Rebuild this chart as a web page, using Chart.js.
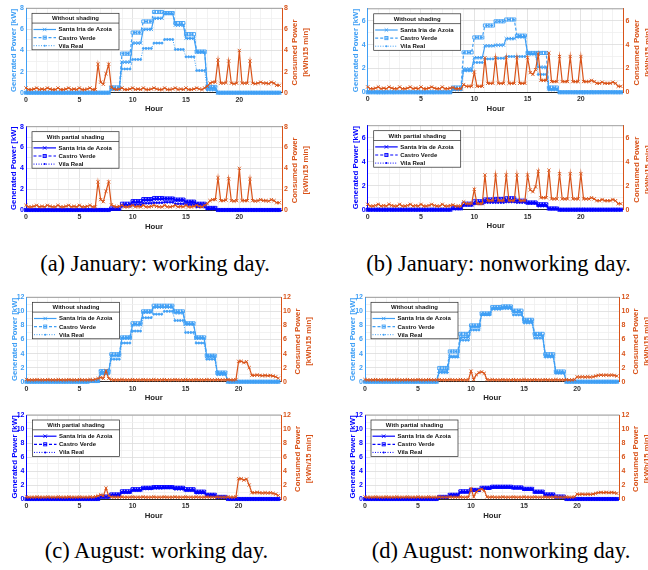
<!DOCTYPE html>
<html>
<head>
<meta charset="utf-8">
<script src="https://cdn.jsdelivr.net/npm/chart.js@4.4.1/dist/chart.umd.min.js"></script>
<style>
  html, body { margin: 0; padding: 0; background: #fff; }
  #fig { position: relative; width: 648px; height: 570px; overflow: hidden; background: #fff; }
  #fig canvas { position: absolute; }
  .cap { position: absolute; font-family: "Liberation Serif", "Times New Roman", serif; font-size: 22.5px;
         line-height: 1; color: #000; white-space: nowrap; transform: translate(-50%, -50%); }
</style>
</head>
<body>
<div id="fig">
  <div class="cap" style="left:155px;top:264px">(a) January: working day.</div>
  <div class="cap" style="left:498.5px;top:264px">(b) January: nonworking day.</div>
  <div class="cap" style="left:156.5px;top:551px">(c) August: working day.</div>
  <div class="cap" style="left:501px;top:551px">(d) August: nonworking day.</div>
</div>
<script>
// ---- time base: one sample every 15 minutes ----
const quarterHours = [
  0,0.25,0.5,0.75, 1,1.25,1.5,1.75, 2,2.25,2.5,2.75, 3,3.25,3.5,3.75, 4,4.25,4.5,4.75, 5,5.25,5.5,5.75,
  6,6.25,6.5,6.75, 7,7.25,7.5,7.75, 8,8.25,8.5,8.75, 9,9.25,9.5,9.75, 10,10.25,10.5,10.75, 11,11.25,11.5,11.75,
  12,12.25,12.5,12.75, 13,13.25,13.5,13.75, 14,14.25,14.5,14.75, 15,15.25,15.5,15.75, 16,16.25,16.5,16.75, 17,17.25,17.5,17.75,
  18,18.25,18.5,18.75, 19,19.25,19.5,19.75, 20,20.25,20.5,20.75, 21,21.25,21.5,21.75, 22,22.25,22.5,22.75, 23,23.25,23.5,23.75
];

const siteNames = ['Santa Iria de Azoia', 'Castro Verde', 'Vila Real'];
const hourGrid = [0,1,2,3,4,5,6,7,8,9,10,11,12,13,14,15,16,17,18,19,20,21,22,23,24];
const hourTickLabels = [0,5,10,15,20];
const yGrid8 = [0,1,2,3,4,5,6,7,8];
const yLabels8 = [0,2,4,6,8];
const yGrid7 = [0,1,2,3,4,5,6,7];
const yLabels7 = [0,2,4,6];
const yGrid12 = [0,1,2,3,4,5,6,7,8,9,10,11,12];
const yLabels12 = [0,2,4,6,8,10,12];

// ---- consumed power [kWh/15 min] ----
const loadJanWork = [
  0.45,0.3,0.3,0.35, 0.45,0.3,0.35,0.3, 0.45,0.35,0.3,0.3, 0.45,0.3,0.3,0.35, 0.45,0.3,0.35,0.3, 0.45,0.3,0.3,0.35,
  0.45,0.3,0.3,2.7, 1.0,0.8,1.8,2.7, 0.5,0.35,0.3,0.35, 0.45,0.3,0.3,0.35, 0.45,0.3,0.35,0.3, 0.45,0.3,0.3,0.35,
  0.45,0.35,0.3,0.3, 0.45,0.3,0.3,0.35, 0.45,0.3,0.35,0.3, 0.45,0.3,0.3,0.35, 0.45,0.35,0.3,0.45, 0.6,0.9,1.0,1.0,
  3.1,0.9,0.9,0.95, 3.0,0.9,0.85,0.9, 4.0,0.9,0.9,0.9, 3.0,0.9,0.85,0.9, 1.0,0.9,0.9,0.85, 1.0,0.9,0.7,0.7
];
const loadJanOff = [
  0.45,0.3,0.3,0.35, 0.45,0.3,0.35,0.3, 0.45,0.35,0.3,0.3, 0.45,0.3,0.3,0.35, 0.45,0.3,0.35,0.3, 0.45,0.3,0.3,0.35,
  0.45,0.35,0.3,0.3, 0.45,0.3,0.3,0.35, 0.4,0.3,0.3,0.3, 0.65,0.5,0.5,0.5, 1.7,0.5,0.5,0.5, 2.9,0.75,0.75,0.75,
  2.9,0.75,0.75,0.75, 2.9,0.75,0.75,0.75, 2.9,0.75,0.75,0.75, 2.9,1.65,1.5,1.9, 3.2,1.0,1.0,1.0, 3.3,0.9,0.9,0.9,
  3.0,0.9,0.9,0.9, 3.0,0.9,0.9,0.9, 3.0,0.9,0.9,0.9, 1.0,0.9,0.75,0.75, 0.85,0.75,0.75,0.75, 0.85,0.75,0.5,0.5
];
const loadAugWork = [
  0.3,0.25,0.25,0.25, 0.3,0.25,0.25,0.25, 0.3,0.25,0.25,0.25, 0.3,0.25,0.25,0.25, 0.3,0.25,0.25,0.25, 0.3,0.25,0.25,0.25,
  0.3,0.25,0.35,0.45, 0.6,0.45,1.55,0.45, 0.3,0.25,0.25,0.25, 0.3,0.25,0.25,0.25, 0.3,0.25,0.25,0.25, 0.3,0.25,0.25,0.25,
  0.3,0.25,0.25,0.25, 0.3,0.25,0.25,0.25, 0.3,0.25,0.25,0.25, 0.3,0.25,0.25,0.25, 0.3,0.25,0.25,0.25, 0.3,0.25,0.25,0.25,
  0.3,0.25,0.25,0.25, 0.3,0.25,0.25,0.3, 2.9,2.9,2.7,2.85, 2.0,0.9,0.9,0.95, 0.9,0.85,0.9,0.85, 0.9,0.8,0.7,0.5
];
const loadAugOff = [
  0.3,0.25,0.25,0.25, 0.3,0.25,0.25,0.25, 0.3,0.25,0.25,0.25, 0.3,0.25,0.25,0.25, 0.3,0.25,0.25,0.25, 0.3,0.25,0.25,0.25,
  0.3,0.25,0.25,0.25, 0.3,0.25,0.25,0.25, 0.3,0.25,0.25,0.25, 0.3,0.25,0.25,0.25, 1.5,0.3,1.0,1.3, 1.4,1.2,0.3,0.25,
  0.3,0.25,0.25,0.25, 0.3,0.25,0.25,0.25, 0.3,0.25,0.25,0.25, 0.3,0.25,0.25,0.25, 0.3,0.25,0.25,0.25, 0.3,0.25,0.25,0.25,
  0.3,0.25,0.25,0.25, 0.3,0.25,0.25,0.3, 0.7,0.65,0.7,0.65, 0.7,0.65,0.7,0.8, 0.9,0.95,0.9,0.95, 0.9,0.95,0.9,0.8
];

// ---- generated power [kW], January working day ----
const genJanWorkSantaIria = [
  0,0,0,0, 0,0,0,0, 0,0,0,0, 0,0,0,0, 0,0,0,0, 0,0,0,0,
  0,0,0,0, 0,0,0,0, 0.4,0.4,0.4,0.4, 2.9,2.9,2.9,2.9, 4.7,4.7,4.7,4.7, 6,6,6,6,
  7.05,7.05,7.05,7.05, 7.5,7.5,7.5,7.5, 6.4,6.4,6.4,6.4, 5.15,5.15,5.15,5.15, 3.85,3.85,3.85,3.85, 0.45,0.45,0.45,0.45,
  0,0,0,0, 0,0,0,0, 0,0,0,0, 0,0,0,0, 0,0,0,0, 0,0,0,0
];
const genJanWorkCastroVerde = [
  0,0,0,0, 0,0,0,0, 0,0,0,0, 0,0,0,0, 0,0,0,0, 0,0,0,0,
  0,0,0,0, 0,0,0,0, 0.5,0.5,0.5,0.5, 3.7,3.7,3.7,3.7, 5.7,5.7,5.7,5.7, 6.75,6.75,6.75,6.75,
  7.65,7.65,7.65,7.65, 7.55,7.55,7.55,7.55, 6.6,6.6,6.6,6.6, 5.55,5.55,5.55,5.55, 3.9,3.9,3.9,3.9, 0.55,0.55,0.55,0.55,
  0,0,0,0, 0,0,0,0, 0,0,0,0, 0,0,0,0, 0,0,0,0, 0,0,0,0
];
const genJanWorkVilaReal = [
  0,0,0,0, 0,0,0,0, 0,0,0,0, 0,0,0,0, 0,0,0,0, 0,0,0,0,
  0,0,0,0, 0,0,0,0, 0.3,0.3,0.3,0.3, 2.25,2.25,2.25,2.25, 3.15,3.15,3.15,3.15, 4.2,4.2,4.2,4.2,
  4.7,4.7,4.7,4.7, 5.05,5.05,5.05,5.05, 4.1,4.1,4.1,4.1, 3.4,3.4,3.4,3.4, 2.1,2.1,2.1,2.1, 0.25,0.25,0.25,0.25,
  0,0,0,0, 0,0,0,0, 0,0,0,0, 0,0,0,0, 0,0,0,0, 0,0,0,0
];
const genJanWorkShadedSantaIria = [
  0,0,0,0, 0,0,0,0, 0,0,0,0, 0,0,0,0, 0,0,0,0, 0,0,0,0,
  0,0,0,0, 0,0,0,0, 0.1,0.1,0.1,0.1, 0.5,0.5,0.5,0.5, 0.75,0.75,0.75,0.75, 0.95,0.95,0.95,0.95,
  1.05,1.05,1.05,1.05, 1.1,1.1,1.1,1.1, 0.95,0.95,0.95,0.95, 0.75,0.75,0.75,0.75, 0.55,0.55,0.55,0.55, 0.15,0.15,0.15,0.15,
  0,0,0,0, 0,0,0,0, 0,0,0,0, 0,0,0,0, 0,0,0,0, 0,0,0,0
];
const genJanWorkShadedCastroVerde = [
  0,0,0,0, 0,0,0,0, 0,0,0,0, 0,0,0,0, 0,0,0,0, 0,0,0,0,
  0,0,0,0, 0,0,0,0, 0.15,0.15,0.15,0.15, 0.6,0.6,0.6,0.6, 0.85,0.85,0.85,0.85, 1.05,1.05,1.05,1.05,
  1.15,1.15,1.15,1.15, 1.1,1.1,1.1,1.1, 1.0,1.0,1.0,1.0, 0.8,0.8,0.8,0.8, 0.6,0.6,0.6,0.6, 0.2,0.2,0.2,0.2,
  0,0,0,0, 0,0,0,0, 0,0,0,0, 0,0,0,0, 0,0,0,0, 0,0,0,0
];
const genJanWorkShadedVilaReal = [
  0,0,0,0, 0,0,0,0, 0,0,0,0, 0,0,0,0, 0,0,0,0, 0,0,0,0,
  0,0,0,0, 0,0,0,0, 0.05,0.05,0.05,0.05, 0.35,0.35,0.35,0.35, 0.5,0.5,0.5,0.5, 0.65,0.65,0.65,0.65,
  0.7,0.7,0.7,0.7, 0.75,0.75,0.75,0.75, 0.6,0.6,0.6,0.6, 0.5,0.5,0.5,0.5, 0.3,0.3,0.3,0.3, 0.1,0.1,0.1,0.1,
  0,0,0,0, 0,0,0,0, 0,0,0,0, 0,0,0,0, 0,0,0,0, 0,0,0,0
];

// ---- generated power [kW], January nonworking day ----
const genJanOffSantaIria = [
  0,0,0,0, 0,0,0,0, 0,0,0,0, 0,0,0,0, 0,0,0,0, 0,0,0,0,
  0,0,0,0, 0,0,0,0, 0.3,0.3,0.3,0.3, 1.95,1.95,1.95,1.95, 2.9,2.9,2.9,2.9, 3.9,3.9,3.9,3.9,
  3.95,3.95,3.95,3.95, 4.5,4.5,4.5,4.5, 4.65,4.65,4.65,4.65, 3.25,3.25,3.25,3.25, 2.1,2.1,2.1,2.1, 0.3,0.3,0.3,0.3,
  0,0,0,0, 0,0,0,0, 0,0,0,0, 0,0,0,0, 0,0,0,0, 0,0,0,0
];
const genJanOffCastroVerde = [
  0,0,0,0, 0,0,0,0, 0,0,0,0, 0,0,0,0, 0,0,0,0, 0,0,0,0,
  0,0,0,0, 0,0,0,0, 0.4,0.4,0.4,0.4, 3.35,3.35,3.35,3.35, 4.6,4.6,4.6,4.6, 5.6,5.6,5.6,5.6,
  5.95,5.95,5.95,5.95, 6.1,6.1,6.1,6.1, 4.75,4.75,4.75,4.75, 3.3,3.3,3.3,3.3, 3.3,3.3,3.3,3.3, 0.4,0.4,0.4,0.4,
  0,0,0,0, 0,0,0,0, 0,0,0,0, 0,0,0,0, 0,0,0,0, 0,0,0,0
];
const genJanOffVilaReal = [
  0,0,0,0, 0,0,0,0, 0,0,0,0, 0,0,0,0, 0,0,0,0, 0,0,0,0,
  0,0,0,0, 0,0,0,0, 0.2,0.2,0.2,0.2, 1.8,1.8,1.8,1.8, 2.5,2.5,2.5,2.5, 2.8,2.8,2.8,2.8,
  2.85,2.85,2.85,2.85, 3.0,3.0,3.0,3.0, 3.0,3.0,3.0,3.0, 3.2,3.2,3.2,3.2, 1.5,1.5,1.5,1.5, 0.2,0.2,0.2,0.2,
  0,0,0,0, 0,0,0,0, 0,0,0,0, 0,0,0,0, 0,0,0,0, 0,0,0,0
];
const genJanOffShadedSantaIria = [
  0,0,0,0, 0,0,0,0, 0,0,0,0, 0,0,0,0, 0,0,0,0, 0,0,0,0,
  0,0,0,0, 0,0,0,0, 0.1,0.1,0.1,0.1, 0.4,0.4,0.4,0.4, 0.55,0.55,0.55,0.55, 0.7,0.7,0.7,0.7,
  0.75,0.75,0.75,0.75, 0.8,0.8,0.8,0.8, 0.75,0.75,0.75,0.75, 0.55,0.55,0.55,0.55, 0.4,0.4,0.4,0.4, 0.1,0.1,0.1,0.1,
  0,0,0,0, 0,0,0,0, 0,0,0,0, 0,0,0,0, 0,0,0,0, 0,0,0,0
];
const genJanOffShadedCastroVerde = [
  0,0,0,0, 0,0,0,0, 0,0,0,0, 0,0,0,0, 0,0,0,0, 0,0,0,0,
  0,0,0,0, 0,0,0,0, 0.15,0.15,0.15,0.15, 0.5,0.5,0.5,0.5, 0.7,0.7,0.7,0.7, 0.85,0.85,0.85,0.85,
  0.9,0.9,0.9,0.9, 0.95,0.95,0.95,0.95, 0.75,0.75,0.75,0.75, 0.6,0.6,0.6,0.6, 0.45,0.45,0.45,0.45, 0.1,0.1,0.1,0.1,
  0,0,0,0, 0,0,0,0, 0,0,0,0, 0,0,0,0, 0,0,0,0, 0,0,0,0
];
const genJanOffShadedVilaReal = [
  0,0,0,0, 0,0,0,0, 0,0,0,0, 0,0,0,0, 0,0,0,0, 0,0,0,0,
  0,0,0,0, 0,0,0,0, 0.05,0.05,0.05,0.05, 0.35,0.35,0.35,0.35, 0.5,0.5,0.5,0.5, 0.6,0.6,0.6,0.6,
  0.6,0.6,0.6,0.6, 0.65,0.65,0.65,0.65, 0.6,0.6,0.6,0.6, 0.55,0.55,0.55,0.55, 0.3,0.3,0.3,0.3, 0.05,0.05,0.05,0.05,
  0,0,0,0, 0,0,0,0, 0,0,0,0, 0,0,0,0, 0,0,0,0, 0,0,0,0
];

// ---- generated power [kW], August working day ----
const genAugWorkSantaIria = [
  0,0,0,0, 0,0,0,0, 0,0,0,0, 0,0,0,0, 0,0,0,0, 0,0,0,0,
  0.05,0.05,0.05,0.05, 1.4,1.4,1.4,1.4, 3.7,3.7,3.7,3.7, 6.2,6.2,6.2,6.2, 8.1,8.1,8.1,8.1, 9.9,9.9,9.9,9.9,
  10.6,10.6,10.6,10.6, 10.6,10.6,10.6,10.6, 9.8,9.8,9.8,9.8, 8.2,8.2,8.2,8.2, 6.2,6.2,6.2,6.2, 3.6,3.6,3.6,3.6,
  1.2,1.2,1.2,1.2, 0,0,0,0, 0,0,0,0, 0,0,0,0, 0,0,0,0, 0,0,0,0
];
const genAugWorkCastroVerde = [
  0,0,0,0, 0,0,0,0, 0,0,0,0, 0,0,0,0, 0,0,0,0, 0,0,0,0,
  0.1,0.1,0.1,0.1, 1.5,1.5,1.5,1.5, 3.9,3.9,3.9,3.9, 6.3,6.3,6.3,6.3, 8.3,8.3,8.3,8.3, 10,10,10,10,
  10.8,10.8,10.8,10.8, 10.8,10.8,10.8,10.8, 10,10,10,10, 8.3,8.3,8.3,8.3, 6.3,6.3,6.3,6.3, 3.7,3.7,3.7,3.7,
  1.3,1.3,1.3,1.3, 0,0,0,0, 0,0,0,0, 0,0,0,0, 0,0,0,0, 0,0,0,0
];
const genAugWorkVilaReal = [
  0,0,0,0, 0,0,0,0, 0,0,0,0, 0,0,0,0, 0,0,0,0, 0,0,0,0,
  0.05,0.05,0.05,0.05, 1.1,1.1,1.1,1.1, 3.2,3.2,3.2,3.2, 5.5,5.5,5.5,5.5, 7.2,7.2,7.2,7.2, 9.1,9.1,9.1,9.1,
  9.6,9.6,9.6,9.6, 10,10,10,10, 8.7,8.7,8.7,8.7, 7.0,7.0,7.0,7.0, 5.5,5.5,5.5,5.5, 3.2,3.2,3.2,3.2,
  1.0,1.0,1.0,1.0, 0,0,0,0, 0,0,0,0, 0,0,0,0, 0,0,0,0, 0,0,0,0
];
const genAugWorkShadedSantaIria = [
  0,0,0,0, 0,0,0,0, 0,0,0,0, 0,0,0,0, 0,0,0,0, 0,0,0,0,
  0,0,0,0, 0.3,0.3,0.3,0.3, 0.6,0.6,0.6,0.6, 1.0,1.0,1.0,1.0, 1.3,1.3,1.3,1.3, 1.55,1.55,1.55,1.55,
  1.65,1.65,1.65,1.65, 1.65,1.65,1.65,1.65, 1.55,1.55,1.55,1.55, 1.3,1.3,1.3,1.3, 1.0,1.0,1.0,1.0, 0.55,0.55,0.55,0.55,
  0.25,0.25,0.25,0.25, 0,0,0,0, 0,0,0,0, 0,0,0,0, 0,0,0,0, 0,0,0,0
];
const genAugWorkShadedCastroVerde = [
  0,0,0,0, 0,0,0,0, 0,0,0,0, 0,0,0,0, 0,0,0,0, 0,0,0,0,
  0,0,0,0, 0.35,0.35,0.35,0.35, 0.65,0.65,0.65,0.65, 1.1,1.1,1.1,1.1, 1.4,1.4,1.4,1.4, 1.6,1.6,1.6,1.6,
  1.7,1.7,1.7,1.7, 1.7,1.7,1.7,1.7, 1.6,1.6,1.6,1.6, 1.4,1.4,1.4,1.4, 1.05,1.05,1.05,1.05, 0.6,0.6,0.6,0.6,
  0.3,0.3,0.3,0.3, 0,0,0,0, 0,0,0,0, 0,0,0,0, 0,0,0,0, 0,0,0,0
];
const genAugWorkShadedVilaReal = [
  0,0,0,0, 0,0,0,0, 0,0,0,0, 0,0,0,0, 0,0,0,0, 0,0,0,0,
  0,0,0,0, 0.25,0.25,0.25,0.25, 0.5,0.5,0.5,0.5, 0.9,0.9,0.9,0.9, 1.2,1.2,1.2,1.2, 1.45,1.45,1.45,1.45,
  1.55,1.55,1.55,1.55, 1.6,1.6,1.6,1.6, 1.4,1.4,1.4,1.4, 1.2,1.2,1.2,1.2, 0.85,0.85,0.85,0.85, 0.5,0.5,0.5,0.5,
  0.2,0.2,0.2,0.2, 0,0,0,0, 0,0,0,0, 0,0,0,0, 0,0,0,0, 0,0,0,0
];

// ---- generated power [kW], August nonworking day ----
const genAugOffSantaIria = [
  0,0,0,0, 0,0,0,0, 0,0,0,0, 0,0,0,0, 0,0,0,0, 0,0,0,0,
  0,0,0,0, 1.5,1.5,1.5,1.5, 3.6,3.6,3.6,3.6, 6.3,6.3,6.3,6.3, 7.8,7.8,7.8,7.8, 9.6,9.6,9.6,9.6,
  10.5,10.5,10.5,10.5, 10.6,10.6,10.6,10.6, 9.9,9.9,9.9,9.9, 8.6,8.6,8.6,8.6, 6.6,6.6,6.6,6.6, 3.7,3.7,3.7,3.7,
  1.3,1.3,1.3,1.3, 0,0,0,0, 0,0,0,0, 0,0,0,0, 0,0,0,0, 0,0,0,0
];
const genAugOffCastroVerde = [
  0,0,0,0, 0,0,0,0, 0,0,0,0, 0,0,0,0, 0,0,0,0, 0,0,0,0,
  0,0,0,0, 1.95,1.95,1.95,1.95, 4.3,4.3,4.3,4.3, 6.8,6.8,6.8,6.8, 8.0,8.0,8.0,8.0, 9.7,9.7,9.7,9.7,
  10.6,10.6,10.6,10.6, 10.7,10.7,10.7,10.7, 10.1,10.1,10.1,10.1, 8.8,8.8,8.8,8.8, 6.8,6.8,6.8,6.8, 3.9,3.9,3.9,3.9,
  1.45,1.45,1.45,1.45, 0,0,0,0, 0,0,0,0, 0,0,0,0, 0,0,0,0, 0,0,0,0
];
const genAugOffVilaReal = [
  0,0,0,0, 0,0,0,0, 0,0,0,0, 0,0,0,0, 0,0,0,0, 0,0,0,0,
  0,0,0,0, 1.3,1.3,1.3,1.3, 3.5,3.5,3.5,3.5, 5.9,5.9,5.9,5.9, 7.35,7.35,7.35,7.35, 9.5,9.5,9.5,9.5,
  10.3,10.3,10.3,10.3, 10.4,10.4,10.4,10.4, 9.5,9.5,9.5,9.5, 8.35,8.35,8.35,8.35, 6.2,6.2,6.2,6.2, 3.5,3.5,3.5,3.5,
  1.2,1.2,1.2,1.2, 0,0,0,0, 0,0,0,0, 0,0,0,0, 0,0,0,0, 0,0,0,0
];
const genAugOffShadedSantaIria = [
  0,0,0,0, 0,0,0,0, 0,0,0,0, 0,0,0,0, 0,0,0,0, 0,0,0,0,
  0,0,0,0, 0.25,0.25,0.25,0.25, 0.55,0.55,0.55,0.55, 1.0,1.0,1.0,1.0, 1.25,1.25,1.25,1.25, 1.55,1.55,1.55,1.55,
  1.7,1.7,1.7,1.7, 1.7,1.7,1.7,1.7, 1.6,1.6,1.6,1.6, 1.4,1.4,1.4,1.4, 1.0,1.0,1.0,1.0, 0.6,0.6,0.6,0.6,
  0.3,0.3,0.3,0.3, 0,0,0,0, 0,0,0,0, 0,0,0,0, 0,0,0,0, 0,0,0,0
];
const genAugOffShadedCastroVerde = [
  0,0,0,0, 0,0,0,0, 0,0,0,0, 0,0,0,0, 0,0,0,0, 0,0,0,0,
  0,0,0,0, 0.3,0.3,0.3,0.3, 0.6,0.6,0.6,0.6, 1.1,1.1,1.1,1.1, 1.3,1.3,1.3,1.3, 1.6,1.6,1.6,1.6,
  1.75,1.75,1.75,1.75, 1.75,1.75,1.75,1.75, 1.65,1.65,1.65,1.65, 1.45,1.45,1.45,1.45, 1.05,1.05,1.05,1.05, 0.65,0.65,0.65,0.65,
  0.35,0.35,0.35,0.35, 0,0,0,0, 0,0,0,0, 0,0,0,0, 0,0,0,0, 0,0,0,0
];
const genAugOffShadedVilaReal = [
  0,0,0,0, 0,0,0,0, 0,0,0,0, 0,0,0,0, 0,0,0,0, 0,0,0,0,
  0,0,0,0, 0.2,0.2,0.2,0.2, 0.5,0.5,0.5,0.5, 0.95,0.95,0.95,0.95, 1.2,1.2,1.2,1.2, 1.5,1.5,1.5,1.5,
  1.65,1.65,1.65,1.65, 1.65,1.65,1.65,1.65, 1.55,1.55,1.55,1.55, 1.35,1.35,1.35,1.35, 0.95,0.95,0.95,0.95, 0.55,0.55,0.55,0.55,
  0.25,0.25,0.25,0.25, 0,0,0,0, 0,0,0,0, 0,0,0,0, 0,0,0,0, 0,0,0,0
];

// ---- styling ----
const SANS = '"Liberation Sans", Arial, Helvetica, sans-serif';
const GEN_LIGHT = '#3f9ff5';
const GEN_DEEP = '#0000ff';
const LOAD = '#d95319';
const INK = '#262626';
Chart.defaults.font.family = SANS;

// marker / line style for each site (solid+x, dashed+square, dotted+dot)
const siteStyles = [
  { pointStyle: 'crossRot', radius: 2.4, dash: [], width: 1.2 },
  { pointStyle: 'rect', radius: 2.2, dash: [3, 2], width: 1.2 },
  { pointStyle: 'circle', radius: 1.0, dash: [1, 1.5], width: 1.0 }
];

const panels = [
  { box: {x: 0, y: 0, w: 322, h: 120}, area: {l: 26, t: 8.3, r: 282, b: 92.7}, shaded: false,
    gen: [genJanWorkSantaIria, genJanWorkCastroVerde, genJanWorkVilaReal], load: loadJanWork,
    yMax: 8, yGrid: yGrid8, yLabels: yLabels8 },
  { box: {x: 0, y: 112, w: 322, h: 124}, area: {l: 26, t: 126.7, r: 282, b: 210}, shaded: true,
    gen: [genJanWorkShadedSantaIria, genJanWorkShadedCastroVerde, genJanWorkShadedVilaReal], load: loadJanWork,
    yMax: 8, yGrid: yGrid8, yLabels: yLabels8 },
  { box: {x: 322, y: 0, w: 326, h: 120}, area: {l: 367.7, t: 8.8, r: 623.5, b: 92.3}, shaded: false,
    gen: [genJanOffSantaIria, genJanOffCastroVerde, genJanOffVilaReal], load: loadJanOff,
    yMax: 7, yGrid: yGrid7, yLabels: yLabels7 },
  { box: {x: 322, y: 112, w: 326, h: 124}, area: {l: 367.7, t: 125.7, r: 623.5, b: 209.7}, shaded: true,
    gen: [genJanOffShadedSantaIria, genJanOffShadedCastroVerde, genJanOffShadedVilaReal], load: loadJanOff,
    yMax: 7, yGrid: yGrid7, yLabels: yLabels7 },
  { box: {x: 0, y: 286, w: 322, h: 120}, area: {l: 26.5, t: 297.3, r: 281, b: 381.7}, shaded: false,
    gen: [genAugWorkSantaIria, genAugWorkCastroVerde, genAugWorkVilaReal], load: loadAugWork,
    yMax: 12, yGrid: yGrid12, yLabels: yLabels12 },
  { box: {x: 0, y: 402, w: 322, h: 124}, area: {l: 26.5, t: 415, r: 281, b: 499}, shaded: true,
    gen: [genAugWorkShadedSantaIria, genAugWorkShadedCastroVerde, genAugWorkShadedVilaReal], load: loadAugWork,
    yMax: 12, yGrid: yGrid12, yLabels: yLabels12 },
  { box: {x: 322, y: 286, w: 326, h: 120}, area: {l: 365, t: 297.3, r: 619.5, b: 381.7}, shaded: false,
    gen: [genAugOffSantaIria, genAugOffCastroVerde, genAugOffVilaReal], load: loadAugOff,
    yMax: 12, yGrid: yGrid12, yLabels: yLabels12 },
  { box: {x: 322, y: 402, w: 326, h: 124}, area: {l: 365, t: 415, r: 619.5, b: 499}, shaded: true,
    gen: [genAugOffShadedSantaIria, genAugOffShadedCastroVerde, genAugOffShadedVilaReal], load: loadAugOff,
    yMax: 12, yGrid: yGrid12, yLabels: yLabels12 }
];

function toPoints(values) {
  return quarterHours.map((x, i) => ({ x: x, y: values[i] }));
}

function drawMarker(ctx, style, x, y, r, color) {
  ctx.save();
  ctx.setLineDash([]);
  ctx.strokeStyle = color;
  ctx.fillStyle = color;
  ctx.lineWidth = 0.9;
  const d = r * Math.SQRT1_2;
  if (style === 'crossRot') {
    ctx.beginPath();
    ctx.moveTo(x - d, y - d); ctx.lineTo(x + d, y + d);
    ctx.moveTo(x + d, y - d); ctx.lineTo(x - d, y + d);
    ctx.stroke();
  } else if (style === 'rect') {
    ctx.strokeRect(x - d, y - d, 2 * d, 2 * d);
  } else {
    ctx.beginPath(); ctx.arc(x, y, r, 0, Math.PI * 2); ctx.fill();
  }
  ctx.restore();
}

// axis titles, box top edge and the boxed legend of one panel
function makeDecor(p, genColor) {
  return {
    id: 'panelDecor',
    beforeDatasetsDraw(chart) {
      const {ctx, chartArea: ca} = chart;
      ctx.save();
      ctx.strokeStyle = '#8a8a8a';
      ctx.lineWidth = 0.8;
      ctx.beginPath(); ctx.moveTo(ca.left, ca.top); ctx.lineTo(ca.right, ca.top); ctx.stroke();
      ctx.restore();
    },
    afterDraw(chart) {
      const {ctx, chartArea: ca} = chart;
      const mid = (ca.top + ca.bottom) / 2;
      ctx.save();
      ctx.textAlign = 'center';
      ctx.textBaseline = 'middle';
      ctx.font = 'bold 7.8px ' + SANS;
      // x title
      ctx.fillStyle = INK;
      ctx.fillText('Hour', (ca.left + ca.right) / 2, ca.bottom + 16.5);
      // left title
      ctx.save();
      ctx.translate(ca.left - 11.8, mid);
      ctx.rotate(-Math.PI / 2);
      ctx.fillStyle = genColor;
      ctx.fillText('Generated Power [kW]', 0, 0);
      ctx.restore();
      // right title (two lines, reading upwards)
      const rOff = p.yMax >= 10 ? 16.5 : 13;
      ctx.save();
      ctx.translate(ca.right + rOff, mid + 2);
      ctx.rotate(-Math.PI / 2);
      ctx.fillStyle = LOAD;
      ctx.fillText('Consumed Power', 0, 0);
      ctx.fillText('[kWh/15 min]', 0, 11);
      ctx.restore();

      // legend box
      const lx = ca.left + 6, ly = ca.top + 5, lw = 87, lh = 36.5;
      ctx.fillStyle = '#ffffff';
      ctx.fillRect(lx, ly, lw, lh);
      ctx.strokeStyle = INK;
      ctx.lineWidth = 0.7;
      ctx.setLineDash([]);
      ctx.strokeRect(lx, ly, lw, lh);
      ctx.beginPath(); ctx.moveTo(lx, ly + 9.8); ctx.lineTo(lx + lw, ly + 9.8); ctx.stroke();
      ctx.font = 'bold 6px ' + SANS;
      ctx.fillStyle = '#111';
      ctx.fillText(p.shaded ? 'With partial shading' : 'Without shading', lx + lw / 2, ly + 5.2);
      siteNames.forEach((name, i) => {
        const s = siteStyles[i];
        const y = ly + 16.2 + i * 8.1;
        ctx.save();
        ctx.strokeStyle = genColor;
        ctx.lineWidth = s.width;
        ctx.setLineDash(s.dash);
        ctx.beginPath(); ctx.moveTo(lx + 1.5, y); ctx.lineTo(lx + 24, y); ctx.stroke();
        ctx.restore();
        drawMarker(ctx, s.pointStyle, lx + 12.7, y, s.radius, genColor);
        ctx.textAlign = 'left';
        ctx.fillStyle = '#111';
        ctx.fillText(name, lx + 26.5, y + 0.3);
      });
      ctx.restore();
    }
  };
}

function buildPanel(p) {
  const fig = document.getElementById('fig');
  const cv = document.createElement('canvas');
  cv.width = p.box.w; cv.height = p.box.h;
  Object.assign(cv.style, { left: p.box.x + 'px', top: p.box.y + 'px', width: p.box.w + 'px', height: p.box.h + 'px' });
  fig.appendChild(cv);

  const genColor = p.shaded ? GEN_DEEP : GEN_LIGHT;
  const leftW = p.area.l - p.box.x;
  const rightW = p.box.x + p.box.w - p.area.r;
  const bottomH = p.box.y + p.box.h - p.area.b;
  const topPad = p.area.t - p.box.y;
  const tickFont = { family: SANS, size: 7, weight: 'bold' };

  const datasets = [{
    label: 'Consumed Power', data: toPoints(p.load), yAxisID: 'yR',
    borderColor: LOAD, backgroundColor: LOAD, borderWidth: 1.2,
    pointStyle: 'crossRot', pointRadius: 2.3, pointBorderWidth: 0.9,
    pointBorderColor: LOAD, pointBackgroundColor: LOAD, clip: false
  }];
  siteNames.forEach((name, i) => {
    const s = siteStyles[i];
    datasets.push({
      label: name, data: toPoints(p.gen[i]), yAxisID: 'y',
      borderColor: genColor, backgroundColor: genColor, borderWidth: s.width, borderDash: s.dash,
      pointStyle: s.pointStyle, pointRadius: s.radius, pointBorderWidth: 0.9,
      pointBorderColor: genColor, pointBackgroundColor: i === 2 ? genColor : 'rgba(0,0,0,0)', clip: false
    });
  });

  new Chart(cv, {
    type: 'line',
    data: { datasets },
    options: {
      responsive: false, animation: false, devicePixelRatio: 1, events: [],
      layout: { padding: { left: 0, right: 0, top: topPad, bottom: 0 } },
      plugins: { legend: { display: false }, tooltip: { enabled: false } },
      scales: {
        x: {
          type: 'linear', min: 0, max: 24,
          afterBuildTicks: s => { s.ticks = hourGrid.map(v => ({ value: v })); },
          afterFit: s => { s.height = bottomH; },
          ticks: { autoSkip: false, maxRotation: 0, padding: 3, font: tickFont, color: '#333',
                   callback: v => hourTickLabels.includes(v) ? String(v) : '' },
          grid: { drawTicks: false, lineWidth: 0.8,
                  color: c => (c.tick && hourTickLabels.includes(c.tick.value)) ? '#dcdcdc' : '#efefef' },
          border: { color: INK, width: 1 }
        },
        y: {
          position: 'left', min: 0, max: p.yMax,
          afterBuildTicks: s => { s.ticks = p.yGrid.map(v => ({ value: v })); },
          afterFit: s => { s.width = leftW; },
          ticks: { autoSkip: false, padding: 2, font: tickFont, color: genColor,
                   callback: v => p.yLabels.includes(v) ? String(v) : '' },
          grid: { drawTicks: false, lineWidth: 0.8,
                  color: c => (c.tick && p.yLabels.includes(c.tick.value)) ? '#dcdcdc' : '#efefef' },
          border: { color: genColor, width: 1 }
        },
        yR: {
          position: 'right', min: 0, max: p.yMax,
          afterBuildTicks: s => { s.ticks = p.yLabels.map(v => ({ value: v })); },
          afterFit: s => { s.width = rightW; },
          ticks: { autoSkip: false, padding: 2, font: tickFont, color: LOAD },
          grid: { display: false, drawTicks: false },
          border: { color: LOAD, width: 1 }
        }
      }
    },
    plugins: [makeDecor(p, genColor)]
  });
}

panels.forEach(buildPanel);
</script>
</body>
</html>
